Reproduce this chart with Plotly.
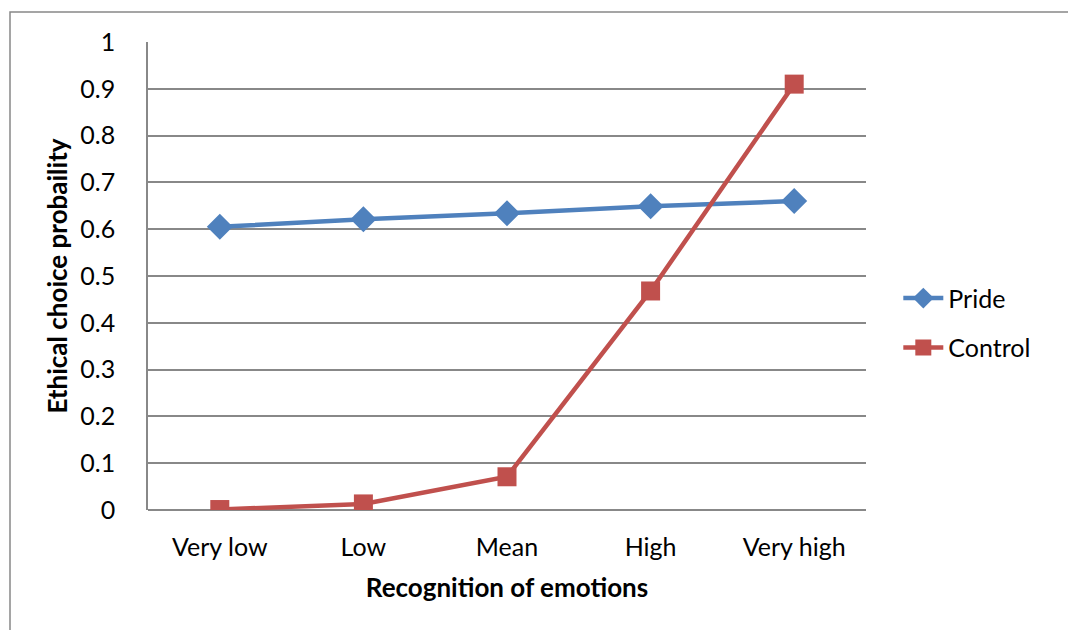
import plotly.graph_objects as go

categories = ["Very low", "Low", "Mean", "High", "Very high"]
pride = [0.605, 0.621, 0.634, 0.649, 0.660]
control = [0.001, 0.013, 0.071, 0.468, 0.910]
y_ticks = [0, 0.1, 0.2, 0.3, 0.4, 0.5, 0.6, 0.7, 0.8, 0.9, 1]
y_labels = ["0", "0.1", "0.2", "0.3", "0.4", "0.5", "0.6", "0.7", "0.8", "0.9", "1"]

FONT = "Lato, 'Open Sans', sans-serif"

fig = go.Figure()
fig.add_trace(go.Scatter(
    x=categories, y=pride, name="Pride", mode="lines+markers", legendgroup="a",
    line=dict(color="#4F81BD", width=4.5),
    marker=dict(symbol="diamond", size=20, color="#4F81BD"),
))
fig.add_trace(go.Scatter(
    x=categories, y=control, name="Control", mode="lines+markers", legendgroup="b",
    line=dict(color="#C0504D", width=4.5),
    marker=dict(symbol="square", size=19, color="#C0504D"),
))

fig.update_layout(
    width=1068, height=622,
    margin=dict(l=140, r=210, t=34, b=120),
    paper_bgcolor="white", plot_bgcolor="white",
    font=dict(family=FONT, size=24, color="black"),
    showlegend=True,
    legend=dict(x=1.045, y=0.40, xanchor="left", yanchor="middle",
                font=dict(size=25), tracegroupgap=14, itemwidth=40,
                bgcolor="rgba(0,0,0,0)"),
    xaxis=dict(
        type="category", range=[-0.5, 4.5], showgrid=False,
        showline=False, zeroline=False, ticks="",
        tickfont=dict(size=25), ticklabelstandoff=20,
        title=dict(text="<b>Recognition of emotions</b>", font=dict(size=26), standoff=18),
    ),
    yaxis=dict(
        range=[0, 1], tickvals=y_ticks, ticktext=y_labels,
        showgrid=True, gridcolor="#888888", gridwidth=1.5,
        showline=True, linecolor="#888888", linewidth=1.5,
        zeroline=True, zerolinecolor="#888888", zerolinewidth=1.5,
        ticks="", ticklabelstandoff=26,
        tickfont=dict(size=25),
        title=dict(text="<b>Ethical choice probaility</b>", font=dict(size=26), standoff=5),
    ),
    shapes=[dict(type="rect", xref="paper", yref="paper",
                 x0=(10 - 148) / 718, x1=1.6, y0=-0.6, y1=1 + 30 / 468,
                 line=dict(color="#888888", width=1.5), layer="below")],
)

fig.write_html("out.html")
